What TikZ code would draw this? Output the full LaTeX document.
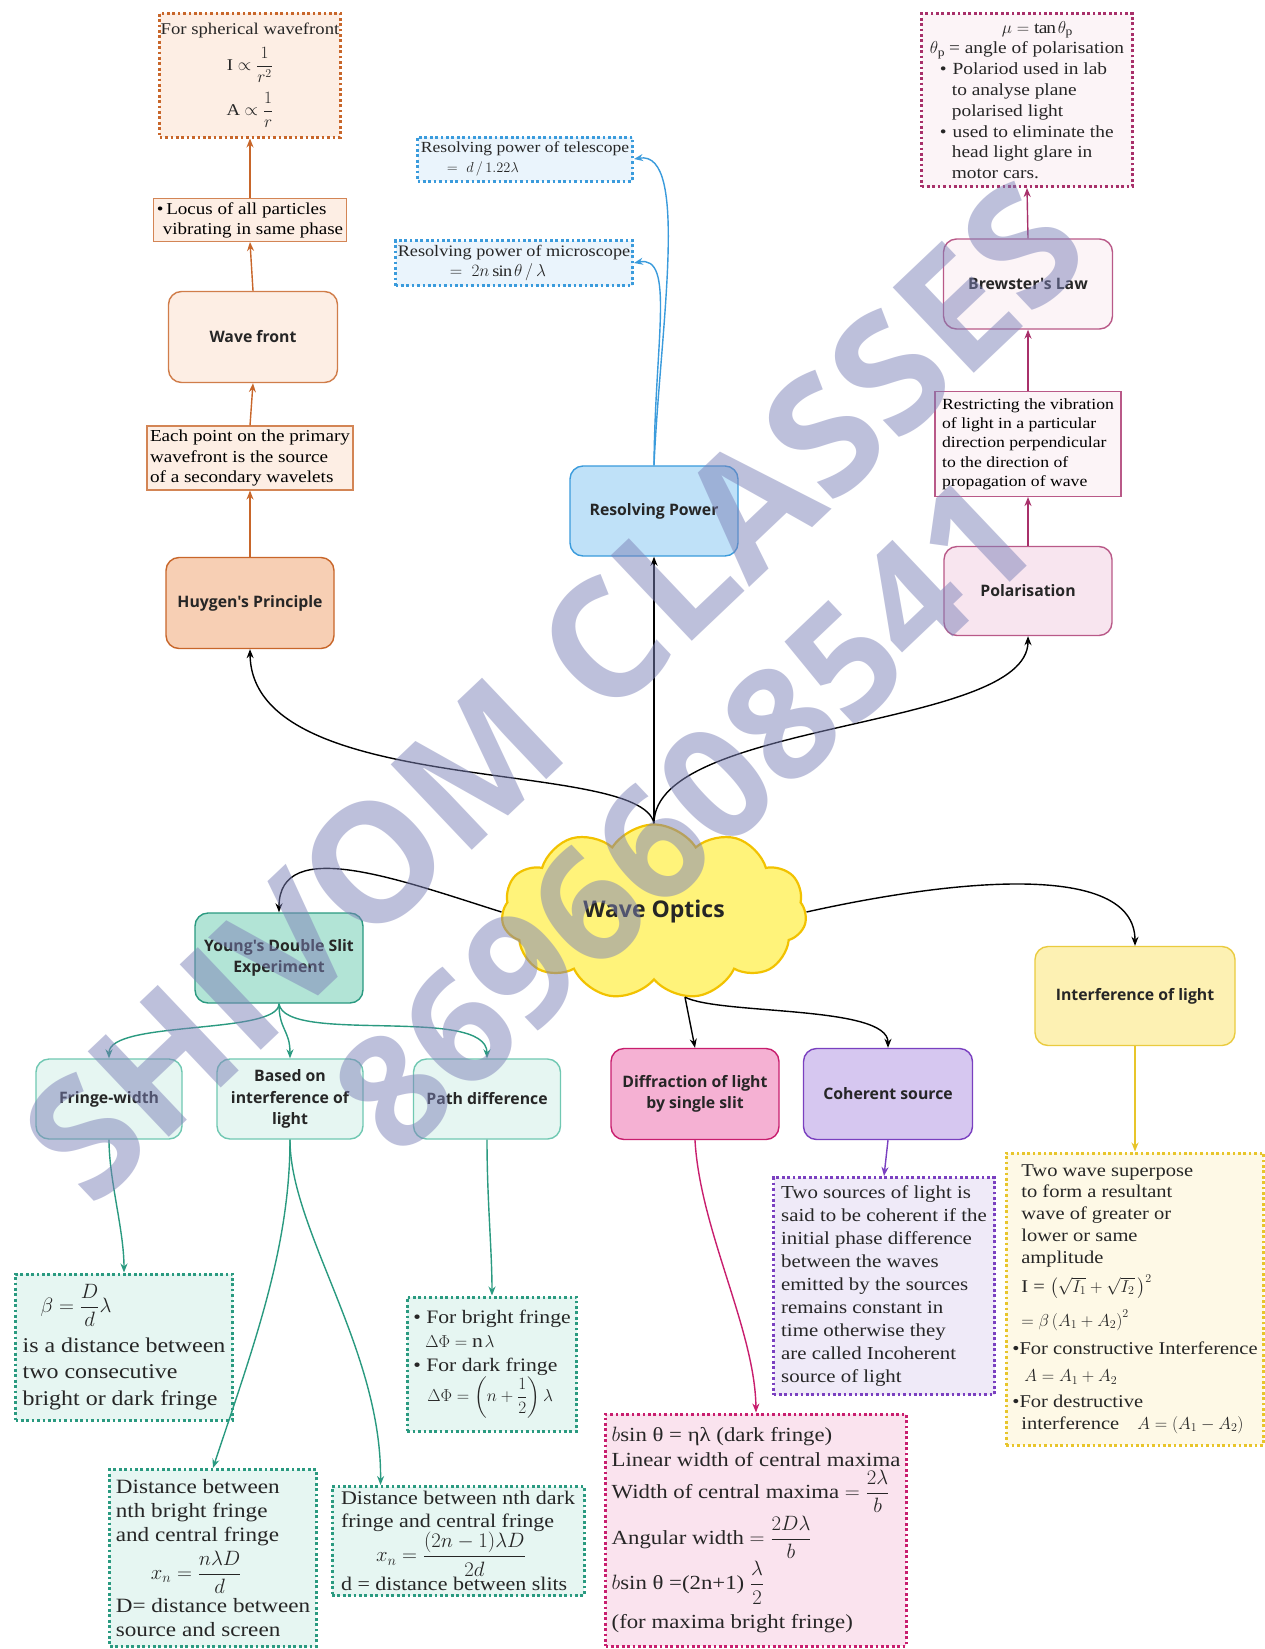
\documentclass[tikz,border=0pt]{standalone}
\usepackage{amsmath}
\usepackage{fontspec}
\setmainfont{Liberation Serif}[FakeStretch=1.14]
\newfontfamily\tfont{Open Sans}
\usetikzlibrary{shapes.symbols,arrows.meta}
\newcommand\fsz[2]{\fontsize{#1}{#2}\selectfont}
\definecolor{orng}{HTML}{C8662A}
\definecolor{orfill}{HTML}{FDEEE4}
\definecolor{hyfill}{HTML}{F7CFB4}
\definecolor{blu}{HTML}{3A9BDC}
\definecolor{blfill}{HTML}{BFE1F8}
\definecolor{bllight}{HTML}{EAF4FC}
\definecolor{mag}{HTML}{A8306A}
\definecolor{mgfill}{HTML}{F8E5EF}
\definecolor{mglight}{HTML}{FCF4F7}
\definecolor{tel}{HTML}{2A9A80}
\definecolor{tlfill}{HTML}{B2E4D6}
\definecolor{tllight}{HTML}{E6F6F2}
\definecolor{tlborder}{HTML}{70C8B2}
\definecolor{dif}{HTML}{C81E6E}
\definecolor{dffill}{HTML}{F5B1D3}
\definecolor{dflight}{HTML}{FAE3EE}
\definecolor{coh}{HTML}{7A40C0}
\definecolor{chfill}{HTML}{D6C7F0}
\definecolor{chlight}{HTML}{EFEAF8}
\definecolor{ylw}{HTML}{E8C52A}
\definecolor{ylfill}{HTML}{FDF1B3}
\definecolor{yllight}{HTML}{FEF9E6}
\definecolor{cldfill}{HTML}{FFF37A}
\definecolor{cldline}{HTML}{F2C200}
\definecolor{wm}{HTML}{7D82B8}
\begin{document}
\begin{tikzpicture}[x=1pt,y=-1pt,
  ttl/.style={draw, rounded corners=13pt, line width=1.4pt, align=center,
    font=\tfont\bfseries\fsz{15.8}{21.5}, text=black!85},
  plainbox/.style={draw, line width=1.1pt, align=left, inner xsep=5pt, inner ysep=2pt},
  dotb/.style={draw, line width=3pt, dash pattern=on 2.7pt off 2.7pt, align=left,
    inner xsep=6pt, inner ysep=2pt, text=black!85},
  sz/.style 2 args={minimum width=#1, minimum height=#2},
  con/.style={-{Stealth[length=9pt,width=7pt]}, line width=1.4pt},
]
\useasboundingbox (0,0) rectangle (1265,1649);
\fill[white] (0,0) rectangle (1265,1649);

% ---------- Huygens branch ----------
\node[dotb, draw=orng, fill=orfill, sz={180pt}{124pt}, align=center, inner xsep=1pt, font=\fsz{16.4}{21}] (sph) at (250,75)
  {For spherical wavefront\\[9pt] I $\propto\dfrac{1}{r^2}$\\[9pt] A $\propto\dfrac{1}{r}$};
\node[plainbox, draw=orng!80, fill=orfill, sz={192pt}{43pt}, inner xsep=3pt, font=\fsz{16.7}{20}] (locus) at (250,220)
  {\textbullet\,Locus of all particles\\ \hspace*{6pt}vibrating in same phase};
\node[ttl, draw=orng!85, fill=orfill, sz={169pt}{91pt}] (wavefront) at (253,337) {Wave front};
\node[plainbox, draw=orng!80, fill=orfill, sz={204pt}{64pt}, inner xsep=3pt, font=\fsz{16.8}{20.5}] (eachpt) at (250,458)
  {Each point on the primary\\wavefront is the source\\of a secondary wavelets};
\node[ttl, draw=orng, fill=hyfill, sz={168pt}{91pt}] (huygen) at (250,603) {Huygen's Principle};

% ---------- Resolving power branch ----------
\node[dotb, draw=blu, fill=bllight, sz={215pt}{44pt}, inner xsep=2pt, font=\fsz{15.4}{20}] (telescope) at (525,159)
  {Resolving power of telescope\\ \hspace*{26pt}$=\ d\,/\,1.22\lambda$};
\node[dotb, draw=blu, fill=bllight, sz={237pt}{45pt}, inner xsep=2pt, font=\fsz{16}{20}] (microscope) at (514,263)
  {Resolving power of microscope\\ \hspace*{52pt}$=\ 2n\sin\theta\,/\,\lambda$};
\node[ttl, draw=blu, fill=blfill, sz={168pt}{90pt}] (respow) at (654,511) {Resolving Power};

% ---------- Polarisation branch ----------
\node[dotb, draw=mag, fill=mglight, sz={211pt}{173pt}, inner xsep=3pt, font=\fsz{17}{20.8}] (polbox) at (1027,100)
  {\hspace*{72pt}$\mu=\tan\theta_{\mathrm p}$\\
   $\theta_{\mathrm p}$ = angle of polarisation\\
   \hspace*{10pt}\textbullet\hspace{6pt}Polariod used in lab\\
   \hspace*{22pt}to analyse plane\\
   \hspace*{22pt}polarised light\\
   \hspace*{10pt}\textbullet\hspace{6pt}used to eliminate the\\
   \hspace*{22pt}head light glare in\\
   \hspace*{22pt}motor cars.};
\node[ttl, draw=mag!80, fill=mglight, sz={169pt}{90pt}] (brewster) at (1028,284) {Brewster's Law};
\node[plainbox, draw=mag!80, fill=mglight, sz={186pt}{105pt}, font=\fsz{15.5}{19.3}] (restrict) at (1028,444)
  {Restricting the vibration\\of light in a particular\\direction perpendicular\\to the direction of\\propagation of wave};
\node[ttl, draw=mag!80, fill=mgfill, sz={168pt}{89pt}] (polar) at (1028,591) {Polarisation};

% ---------- Centre ----------
\node[cloud, cloud puffs=11, cloud puff arc=115, aspect=1.75, draw=cldline, fill=cldfill,
  line width=2.2pt, minimum width=305pt, minimum height=175pt,
  font=\tfont\bfseries\fsz{23}{27}, text=black!85] (wo) at (654,912) {Wave Optics};

% ---------- YDSE branch ----------
\node[ttl, draw=tel, fill=tlfill, sz={168pt}{90pt}] (ydse) at (279,958) {Young's Double Slit\\Experiment};
\node[ttl, draw=tlborder, fill=tllight, sz={146pt}{80pt}] (fringe) at (109,1099) {Fringe-width};
\node[ttl, draw=tlborder, fill=tllight, sz={146pt}{80pt}] (basedon) at (290,1099) {Based on\\interference of\\light};
\node[ttl, draw=tlborder, fill=tllight, sz={147pt}{80pt}] (pathdiff) at (487,1099) {Path difference};

\node[dotb, draw=tel, fill=tllight, sz={217pt}{146pt}, font=\fsz{21}{26.3}] (beta) at (124,1347)
  {\hspace*{18pt}$\beta=\dfrac{D}{d}\lambda$\\[10pt] is a distance between\\two consecutive\\bright or dark fringe};
\node[dotb, draw=tel, fill=tllight, sz={204pt}{177pt}, font=\fsz{20.3}{24.2}] (brightd) at (213,1558)
  {Distance between\\nth bright fringe\\and central fringe\\[4pt] \hspace*{35pt}$x_n=\dfrac{n\lambda D}{d}$\\[4pt]D= distance between\\source and screen};
\node[dotb, draw=tel, fill=tllight, sz={252pt}{109pt}, inner ysep=0pt, font=\fsz{19.3}{22.5}] (darkd) at (458,1541)
  {Distance between nth dark\\fringe and central fringe\\ \hspace*{35pt}$x_n=\dfrac{(2n-1)\lambda D}{2d}$\\d = distance between slits};
\node[dotb, draw=tel, fill=tllight, sz={169pt}{134pt}, font=\fsz{19}{24}] (fringebox) at (492,1364)
  {\textbullet\ For bright fringe\\ \hspace*{12pt}$\Delta\Phi=\mathrm{n}\,\lambda$\\ \textbullet\ For dark fringe\\ \hspace*{14pt}$\Delta\Phi=\left(n+\dfrac{1}{2}\right)\lambda$};

% ---------- Diffraction / coherent / interference ----------
\node[ttl, draw=dif, fill=dffill, sz={168pt}{91pt}] (diffr) at (695,1094) {Diffraction of light\\by single slit};
\node[ttl, draw=coh, fill=chfill, sz={169pt}{91pt}] (coher) at (888,1094) {Coherent source};
\node[ttl, draw=ylw!90, fill=ylfill, sz={200pt}{99pt}] (interf) at (1135,996) {Interference of light};

\node[dotb, draw=dif, fill=dflight, sz={300pt}{232pt}, font=\fsz{20}{25}] (diffrbox) at (756,1530)
  {$b$sin θ = ηλ (dark fringe)\\
   Linear width of central maxima\\[2pt]
   Width of central maxima $=\dfrac{2\lambda}{b}$\\[2pt]
   Angular width $=\dfrac{2D\lambda}{b}$\\[2pt]
   $b$sin θ =(2n+1) $\dfrac{\lambda}{2}$\\[9pt]
   (for maxima bright fringe)};
\node[dotb, draw=coh, fill=chlight, sz={221pt}{217pt}, font=\fsz{18.3}{23.1}] (coherbox) at (884,1286)
  {Two sources of light is\\said to be coherent if the\\initial phase difference\\between the waves\\emitted by the sources\\remains constant in\\time otherwise they\\are called Incoherent\\source of light};
\node[dotb, draw=ylw, fill=yllight, sz={256pt}{292pt}, font=\fsz{18}{21.8}] (interfbox) at (1135,1299)
  {\hspace*{9pt}Two wave superpose\\
   \hspace*{9pt}to form a resultant\\
   \hspace*{9pt}wave of greater or\\
   \hspace*{9pt}lower or same\\
   \hspace*{9pt}amplitude\\[7pt]
   \hspace*{9pt}I = $\left(\sqrt{I_1}+\sqrt{I_2}\,\right)^2$\\[11pt]
   \hspace*{9pt}$=\beta\left(A_1+A_2\right)^2$\\[6pt]
   \textbullet For constructive Interference\\[6pt]
   \hspace*{12pt}$A=A_1+A_2$\\[4pt]
   \textbullet For destructive\\
   \hspace*{9pt}interference\quad $A=\left(A_1-A_2\right)$};

% ---------- Connectors ----------
\draw[con, orng] (huygen.north) -- (eachpt.south);
\draw[con, orng] (eachpt.north) -- (wavefront.south);
\draw[con, orng] (wavefront.north) -- (locus.south);
\draw[con, orng] (locus.north) -- (sph.south);

\draw[con, blu] (respow.north) .. controls (660,330) and (690,150) .. (telescope.east);
\draw[con, blu] (respow.north) .. controls (655,340) and (675,255) .. (microscope.east);

\draw[con, mag] (polar.north) -- (restrict.south);
\draw[con, mag] (restrict.north) -- (brewster.south);
\draw[con, mag] (brewster.north) -- (polbox.south);

\draw[con] (wo.north) .. controls (641,757) and (252,800) .. (huygen.south);
\draw[con] (wo.north) -- (respow.south);
\draw[con] (wo.north) .. controls (654,720) and (1028,730) .. (polar.south);
\draw[con] (wo.west) .. controls (400,880) and (279,835) .. (ydse.north);
\draw[con] (wo.east) .. controls (950,880) and (1135,860) .. (interf.north);
\draw[con] (wo.-70) -- (diffr.north);
\draw[con] (wo.-70) .. controls (720,1015) and (888,1005) .. (coher.north);

\draw[con, tel] (ydse.south) .. controls (279,1035) and (109,1020) .. (fringe.north);
\draw[con, tel] (ydse.south) .. controls (279,1030) and (290,1030) .. (basedon.north);
\draw[con, tel] (ydse.south) .. controls (285,1045) and (487,1005) .. (pathdiff.north);
\draw[con, tel] (fringe.south) .. controls (109,1180) and (124,1230) .. (beta.north);
\draw[con, tel] (basedon.south) .. controls (290,1250) and (252,1350) .. (brightd.north);
\draw[con, tel] (basedon.south) .. controls (290,1230) and (382,1350) .. ([xshift=50pt]darkd.north west);
\draw[con, tel] (pathdiff.south) .. controls (487,1200) and (492,1250) .. (fringebox.north);

\draw[con, dif] (diffr.south) .. controls (700,1230) and (755,1330) .. (diffrbox.north);
\draw[con, coh] (coher.south) -- (coherbox.north);
\draw[con, ylw] (interf.south) -- (interfbox.north);

% ---------- Watermark ----------
\node[rotate=43.5, font=\tfont\bfseries\fsz{165}{165}, text=wm, opacity=0.5] (wm1) at (554,691) {SHIVOM CLASSES};
\node[rotate=43.5, font=\tfont\bfseries\fsz{156}{156}, text=wm, opacity=0.5] (wm2) at (684,815) {8696608541};
\end{tikzpicture}
\end{document}
